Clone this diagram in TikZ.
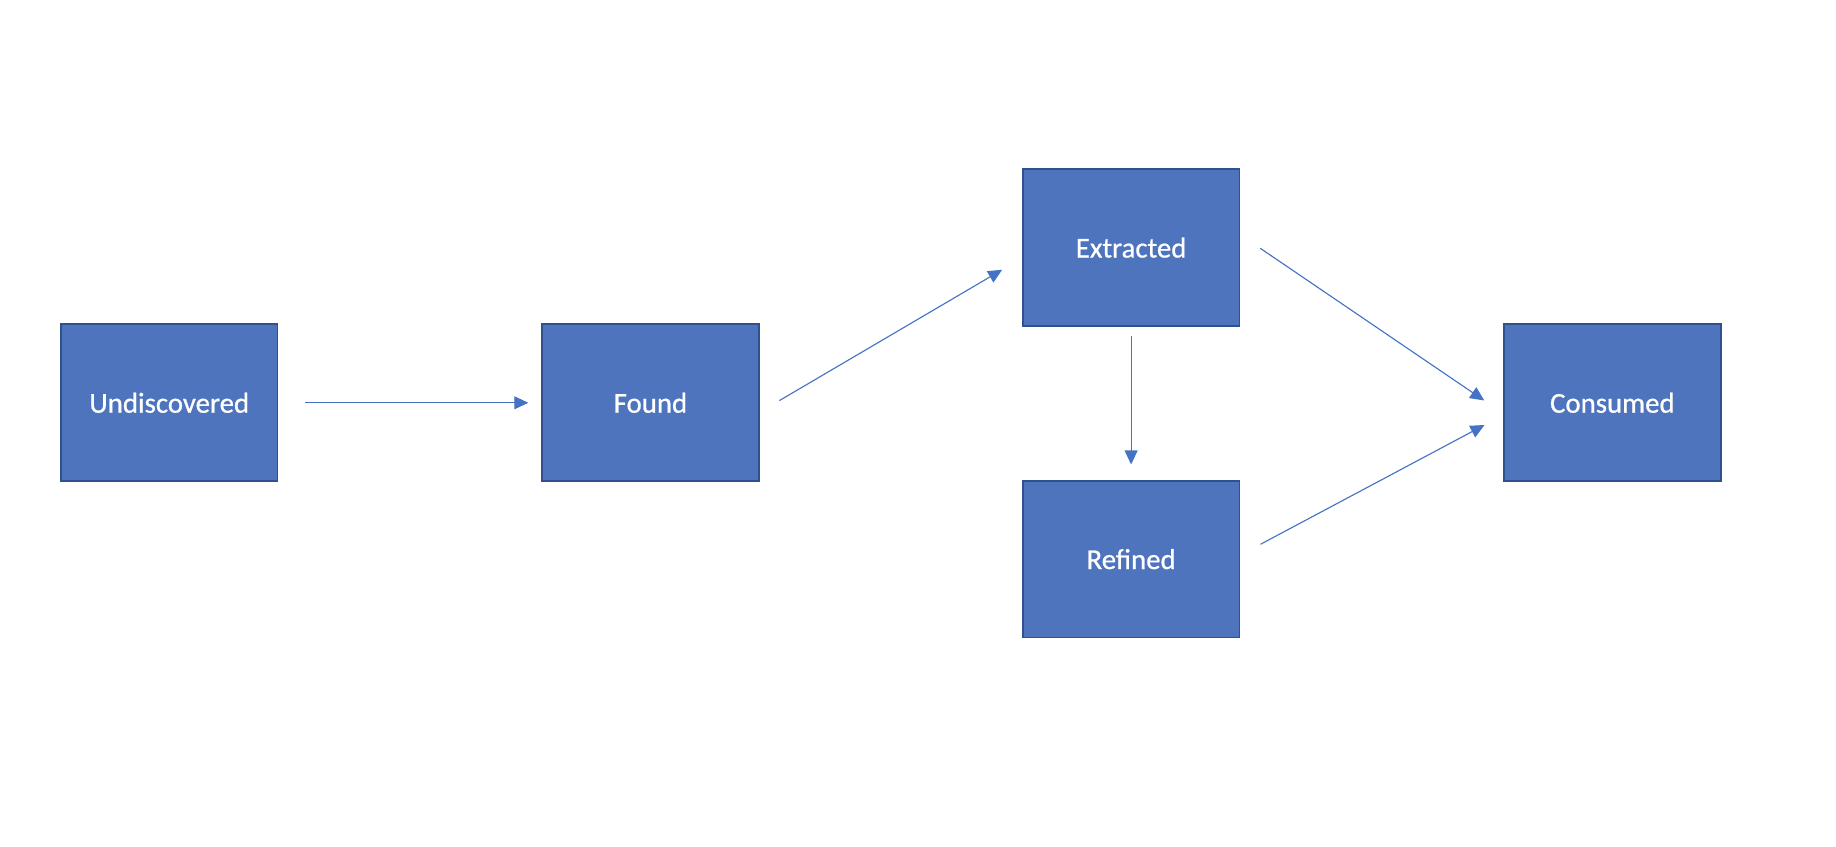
\documentclass[tikz,border=0pt]{standalone}
\usepackage{fontspec}
\setmainfont{Carlito}
\newfontfamily\stagefont[FakeBold=0.7]{Carlito}
\usetikzlibrary{arrows.meta}
\definecolor{boxblue}{RGB}{78,116,190}
\definecolor{boxedge}{RGB}{47,82,143}
\definecolor{linkblue}{RGB}{68,114,196}
\begin{document}
\begin{tikzpicture}
        \tikzstyle{stage}=[rectangle, draw=boxedge, line width=0.9pt, fill=boxblue, text=white, minimum width=3.7cm, minimum height=2.68cm, font=\stagefont\fontsize{14}{16}\selectfont];
        \tikzstyle{flow}=[draw=linkblue, line width=0.55pt, -{Triangle[length=0.24cm, width=0.22cm]}];
        \useasboundingbox (0,0) rectangle (31.36,14.46);

        \node[stage] (undiscovered) at (2.89,7.58) {\raisebox{-0.05cm}{Undiscovered}};
        \node[stage] (found) at (11.11,7.58) {\raisebox{-0.05cm}{Found}};
        \node[stage] (extracted) at (19.32,10.23) {Extracted};
        \node[stage] (refined) at (19.32,4.91) {Refined};
        \node[stage] (consumed) at (27.54,7.58) {\raisebox{-0.05cm}{Consumed}};

        \draw[flow, shorten <=0.46cm, shorten >=0.22cm] (undiscovered) -- (found);
        \draw[flow, shorten <=0.39cm, shorten >=0.39cm] ([yshift=-0.16cm]found.east) -- ([yshift=-0.18cm]extracted.west);
        \draw[flow, shorten <=0.16cm, shorten >=0.26cm] (extracted) -- (refined);
        \draw[flow, shorten <=0.41cm, shorten >=0.39cm] ([yshift=0.22cm]extracted.east) -- ([yshift=-0.18cm]consumed.west);
        \draw[flow, shorten <=0.39cm, shorten >=0.36cm] ([yshift=0.07cm]refined.east) -- ([yshift=-0.21cm]consumed.west);
\end{tikzpicture}
\end{document}
